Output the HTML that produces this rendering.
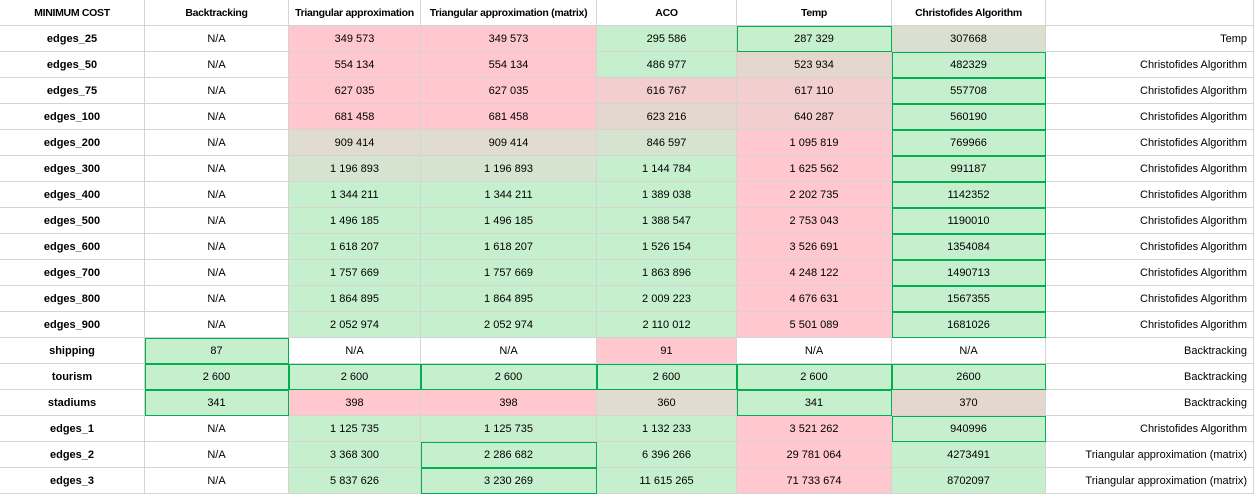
<!DOCTYPE html>
<html><head><meta charset="utf-8">
<style>
body{margin:0;width:1254px;height:494px;overflow:hidden;background:#fff;font-family:"Liberation Sans",Arial,sans-serif;font-size:11px;color:#000}
#grid{position:relative;width:1254px;height:494px}
.c{position:absolute;box-sizing:border-box;border-right:1px solid #d4d4d4;border-bottom:1px solid #d4d4d4;display:flex;align-items:center;justify-content:center;white-space:nowrap}
.b{font-weight:bold}
.h{font-size:10.5px;letter-spacing:-0.3px}
.r{justify-content:flex-end;padding-right:6px}
.B{outline:1px solid #00b050;outline-offset:-1px;z-index:2}
</style></head><body>
<div id="grid"></div>
<script>
const colX=[0,145,289,421,597,737,892,1046,1254];
const headers=["MINIMUM COST","Backtracking","Triangular approximation","Triangular approximation (matrix)","ACO","Temp","Christofides Algorithm",""];
const rowLabels=["edges_25","edges_50","edges_75","edges_100","edges_200","edges_300","edges_400","edges_500","edges_600","edges_700","edges_800","edges_900","shipping","tourism","stadiums","edges_1","edges_2","edges_3"];
const values=[
["N/A","349 573","349 573","295 586","287 329","307668","Temp"],
["N/A","554 134","554 134","486 977","523 934","482329","Christofides Algorithm"],
["N/A","627 035","627 035","616 767","617 110","557708","Christofides Algorithm"],
["N/A","681 458","681 458","623 216","640 287","560190","Christofides Algorithm"],
["N/A","909 414","909 414","846 597","1 095 819","769966","Christofides Algorithm"],
["N/A","1 196 893","1 196 893","1 144 784","1 625 562","991187","Christofides Algorithm"],
["N/A","1 344 211","1 344 211","1 389 038","2 202 735","1142352","Christofides Algorithm"],
["N/A","1 496 185","1 496 185","1 388 547","2 753 043","1190010","Christofides Algorithm"],
["N/A","1 618 207","1 618 207","1 526 154","3 526 691","1354084","Christofides Algorithm"],
["N/A","1 757 669","1 757 669","1 863 896","4 248 122","1490713","Christofides Algorithm"],
["N/A","1 864 895","1 864 895","2 009 223","4 676 631","1567355","Christofides Algorithm"],
["N/A","2 052 974","2 052 974","2 110 012","5 501 089","1681026","Christofides Algorithm"],
["87","N/A","N/A","91","N/A","N/A","Backtracking"],
["2 600","2 600","2 600","2 600","2 600","2600","Backtracking"],
["341","398","398","360","341","370","Backtracking"],
["N/A","1 125 735","1 125 735","1 132 233","3 521 262","940996","Christofides Algorithm"],
["N/A","3 368 300","2 286 682","6 396 266","29 781 064","4273491","Triangular approximation (matrix)"],
["N/A","5 837 626","3 230 269","11 615 265","71 733 674","8702097","Triangular approximation (matrix)"]];
const fills=[
["w","p","p","g","gB","gt","w"],
["w","p","p","g","tp","gB","w"],
["w","p","p","pt","pt","gB","w"],
["w","p","p","tp","pt","gB","w"],
["w","t","t","gt2","p","gB","w"],
["w","gt2","gt2","g","p","gB","w"],
["w","g","g","g","p","gB","w"],
["w","g","g","g","p","gB","w"],
["w","g","g","g","p","gB","w"],
["w","g","g","g","p","gB","w"],
["w","g","g","g","p","gB","w"],
["w","g","g","g","p","gB","w"],
["gB","w","w","p","w","w","w"],
["gB","gB","gB","gB","gB","gB","w"],
["gB","p","p","t","gB","tp","w"],
["w","g","g","g","p","gB","w"],
["w","g","gB","g","p","g","w"],
["w","g","gB","g","p","g","w"]];
const col={w:"#ffffff",p:"#ffc7ce",g:"#c6efce",gt:"#dae0cf",tp:"#e4d8ce",pt:"#f2cece",t:"#e0dccf",gt2:"#d6e4cf"};
const grid=document.getElementById('grid');
function cell(x0,x1,y,txt,cls,bg){
  const d=document.createElement('div');
  d.className='c '+cls;
  d.style.left=x0+'px';d.style.top=y+'px';d.style.width=(x1-x0)+'px';d.style.height='26px';
  d.style.background=bg;
  d.textContent=txt;
  grid.appendChild(d);
  return d;
}
headers.forEach((h,i)=>{
  const d=cell(colX[i],colX[i+1],0,h,'b h','#fff');
  
  
});
rowLabels.forEach((lab,r)=>{
  const y=26+r*26;
  const d=cell(colX[0],colX[1],y,lab,'b','#fff');
  
  
  values[r].forEach((v,c)=>{
    let f=fills[r][c];let B=false;
    if(f.endsWith('B')){B=true;f=f.slice(0,-1);}
    const e=cell(colX[c+1],colX[c+2],y,v,(c===6?'r':'')+(B?' B':''),col[f]);
    
    
  });
});
</script>
</body></html>
